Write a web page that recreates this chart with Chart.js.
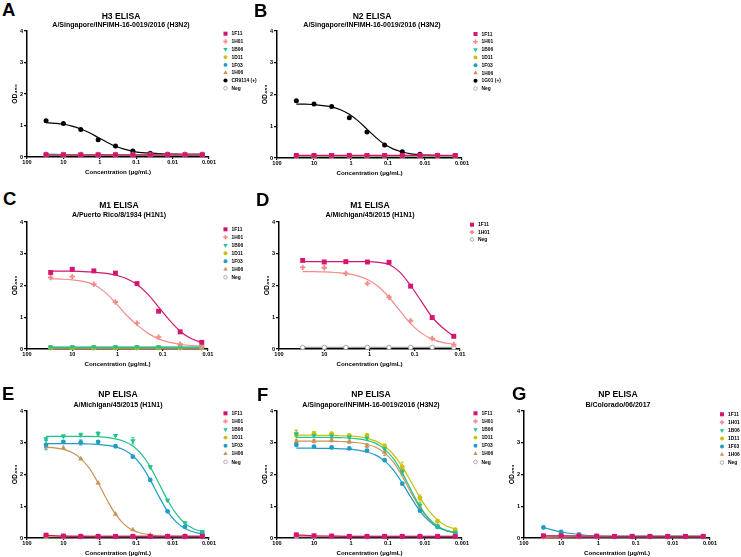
<!DOCTYPE html>
<html>
<head>
<meta charset="utf-8">
<title>ELISA binding curves</title>
<script src="https://cdn.jsdelivr.net/npm/chart.js@4.4.1/dist/chart.umd.min.js"></script>
<style>
  html,body{margin:0;padding:0;background:#fff;}
  body{width:741px;height:557px;position:relative;overflow:hidden;font-family:"Liberation Sans",Arial,Helvetica,sans-serif;}
  canvas{position:absolute;display:block;}
  .txt{position:absolute;font-weight:bold;color:#000;white-space:nowrap;line-height:1;}
  .ctr{text-align:center;width:240px;}
</style>
</head>
<body>
<script>
const FONT = '"Liberation Sans", Arial, Helvetica, sans-serif';

// ---------- concentrations (µg/mL) and ticks ----------
const conc10 = [30, 10, 3.333, 1.111, 0.3704, 0.1235, 0.04115, 0.01372, 0.004572, 0.001524];
const conc8  = [30, 10, 3.333, 1.111, 0.3704, 0.1235, 0.04115, 0.01372];
const fitConc19 = [30, 17.32, 10, 5.774, 3.333, 1.925, 1.111, 0.6415, 0.3704, 0.2138, 0.1235, 0.07128, 0.04115, 0.02376, 0.01372, 0.007921, 0.004572, 0.00264, 0.001524];
const fitConc15 = [30, 17.32, 10, 5.774, 3.333, 1.925, 1.111, 0.6415, 0.3704, 0.2138, 0.1235, 0.07128, 0.04115, 0.02376, 0.01372];
const xTicks5 = [100, 10, 1, 0.1, 0.01, 0.001];
const xTicks4 = [100, 10, 1, 0.1, 0.01];
const yTicks = [0, 1, 2, 3, 4];

// ---------- A: H3 ELISA ----------
const A_1F11 = [0.07, 0.07, 0.07, 0.07, 0.07, 0.07, 0.07, 0.07, 0.07, 0.07];
const A_1H01 = [0.08, 0.08, 0.08, 0.08, 0.08, 0.08, 0.08, 0.09, 0.09, 0.09];
const A_1B06 = [0.06, 0.06, 0.06, 0.06, 0.06, 0.06, 0.06, 0.06, 0.06, 0.06];
const A_1D11 = [0.06, 0.06, 0.06, 0.06, 0.06, 0.06, 0.06, 0.06, 0.06, 0.06];
const A_1F03 = [0.09, 0.08, 0.07, 0.07, 0.07, 0.07, 0.07, 0.07, 0.07, 0.07];
const A_1H06 = [0.05, 0.05, 0.05, 0.05, 0.05, 0.05, 0.05, 0.05, 0.05, 0.05];
const A_CR9114 = [1.15, 1.06, 0.87, 0.55, 0.35, 0.19, 0.12, 0.09, 0.08, 0.08];
const A_CR9114_fit = [1.09, 1.07, 1.04, 0.98, 0.89, 0.77, 0.62, 0.47, 0.34, 0.25, 0.18, 0.14, 0.12, 0.11, 0.10, 0.10, 0.09, 0.09, 0.09];
const A_Neg = [0.05, 0.05, 0.05, 0.05, 0.05, 0.05, 0.05, 0.05, 0.05, 0.05];

// ---------- B: N2 ELISA ----------
const B_1F11 = [0.08, 0.08, 0.08, 0.08, 0.08, 0.08, 0.08, 0.08, 0.08, 0.08];
const B_1H01 = [0.07, 0.07, 0.07, 0.07, 0.07, 0.07, 0.07, 0.07, 0.07, 0.07];
const B_1B06 = [0.06, 0.06, 0.06, 0.06, 0.06, 0.06, 0.06, 0.06, 0.06, 0.06];
const B_1D11 = [0.06, 0.06, 0.06, 0.06, 0.06, 0.06, 0.06, 0.06, 0.06, 0.06];
const B_1F03 = [0.07, 0.07, 0.07, 0.07, 0.07, 0.07, 0.07, 0.07, 0.07, 0.07];
const B_1H06 = [0.05, 0.05, 0.05, 0.05, 0.05, 0.05, 0.05, 0.05, 0.05, 0.05];
const B_1G01 = [1.80, 1.70, 1.62, 1.27, 0.82, 0.41, 0.20, 0.12, 0.09, 0.08];
const B_1G01_fit = [1.70, 1.70, 1.68, 1.65, 1.61, 1.52, 1.38, 1.17, 0.91, 0.65, 0.43, 0.28, 0.19, 0.13, 0.10, 0.09, 0.08, 0.07, 0.07];
const B_Neg = [0.05, 0.05, 0.05, 0.05, 0.05, 0.05, 0.05, 0.05, 0.05, 0.05];

// ---------- C: M1 ELISA, A/Puerto Rico/8/1934 ----------
const C_1F11 = [2.41, 2.51, 2.46, 2.39, 2.06, 1.19, 0.54, 0.21];
const C_1F11_fit = [2.45, 2.45, 2.45, 2.44, 2.42, 2.39, 2.33, 2.22, 2.03, 1.73, 1.32, 0.91, 0.56, 0.33, 0.20];
const C_1H01 = [2.25, 2.28, 2.04, 1.48, 0.81, 0.37, 0.15, 0.08];
const C_1H01_fit = [2.21, 2.20, 2.18, 2.13, 2.03, 1.80, 1.46, 1.08, 0.76, 0.50, 0.32, 0.21, 0.15, 0.11, 0.09];
const C_1B06 = [0.06, 0.06, 0.06, 0.06, 0.06, 0.06, 0.06, 0.06];
const C_1D11 = [0.04, 0.04, 0.04, 0.04, 0.04, 0.04, 0.04, 0.04];
const C_1F03 = [0.05, 0.05, 0.05, 0.05, 0.05, 0.05, 0.05, 0.05];
const C_1H06 = [0.03, 0.03, 0.03, 0.03, 0.03, 0.03, 0.03, 0.03];
const C_Neg = [0.04, 0.04, 0.04, 0.04, 0.04, 0.04, 0.04, 0.04];

// ---------- D: M1 ELISA, A/Michigan/45/2015 ----------
const D_1F11 = [2.79, 2.74, 2.75, 2.74, 2.73, 1.98, 0.99, 0.40];
const D_1F11_fit = [2.75, 2.75, 2.75, 2.75, 2.75, 2.75, 2.75, 2.73, 2.66, 2.42, 2.00, 1.50, 1.00, 0.66, 0.40];
const D_1H01 = [2.57, 2.56, 2.38, 2.06, 1.63, 0.89, 0.33, 0.14];
const D_1H01_fit = [2.44, 2.44, 2.43, 2.41, 2.38, 2.31, 2.19, 1.97, 1.63, 1.21, 0.80, 0.50, 0.31, 0.20, 0.15];
const D_Neg = [0.05, 0.05, 0.05, 0.05, 0.05, 0.05, 0.05, 0.05];

// ---------- E: NP ELISA, A/Michigan/45/2015 ----------
const E_1F11 = [0.09, 0.06, 0.05, 0.05, 0.05, 0.05, 0.05, 0.05, 0.05, 0.05];
const E_1H01 = [0.07, 0.06, 0.06, 0.05, 0.05, 0.05, 0.05, 0.05, 0.05, 0.05];
const E_1B06 = [3.12, 3.21, 3.25, 3.29, 3.23, 3.06, 2.24, 1.19, 0.48, 0.20];
const E_1B06_err = [0.05, 0.03, 0.05, 0.05, 0.03, 0.10, 0.04, 0.03, 0.02, 0.02];
const E_1B06_fit = [3.20, 3.20, 3.20, 3.20, 3.20, 3.20, 3.19, 3.17, 3.12, 3.04, 2.90, 2.64, 2.24, 1.72, 1.19, 0.76, 0.46, 0.29, 0.20];
const E_1D11 = [0.05, 0.05, 0.05, 0.05, 0.05, 0.05, 0.05, 0.05, 0.05, 0.05];
const E_1F03 = [2.93, 3.03, 3.01, 3.03, 2.89, 2.56, 1.83, 0.84, 0.35, 0.16];
const E_1F03_err = [0.15, 0.03, 0.08, 0.03, 0.03, 0.03, 0.03, 0.03, 0.02, 0.02];
const E_1F03_fit = [2.97, 2.97, 2.97, 2.97, 2.97, 2.96, 2.95, 2.92, 2.87, 2.77, 2.59, 2.28, 1.83, 1.31, 0.84, 0.50, 0.30, 0.19, 0.13];
const E_1H06 = [2.87, 2.84, 2.49, 1.73, 0.75, 0.26, 0.09, 0.06, 0.05, 0.05];
const E_1H06_fit = [2.86, 2.84, 2.79, 2.69, 2.50, 2.19, 1.73, 1.21, 0.75, 0.43, 0.24, 0.15, 0.10, 0.07, 0.06, 0.055, 0.05, 0.05, 0.05];
const E_Neg = [0.04, 0.04, 0.04, 0.04, 0.04, 0.04, 0.04, 0.04, 0.04, 0.04];

// ---------- F: NP ELISA, A/Singapore/INFIMH-16-0019/2016 ----------
const F_1F11 = [0.10, 0.07, 0.06, 0.05, 0.05, 0.05, 0.05, 0.05, 0.05, 0.05];
const F_1H01 = [0.07, 0.06, 0.05, 0.05, 0.05, 0.05, 0.05, 0.05, 0.05, 0.05];
const F_1B06 = [3.28, 3.23, 3.22, 3.18, 3.15, 2.81, 2.08, 1.03, 0.37, 0.18];
const F_1B06_err = [0.10, 0.06, 0.05, 0.05, 0.08, 0.08, 0.10, 0.08, 0.03, 0.02];
const F_1B06_fit = [3.17, 3.17, 3.17, 3.17, 3.17, 3.16, 3.15, 3.12, 3.07, 2.98, 2.80, 2.50, 2.05, 1.51, 1.00, 0.62, 0.38, 0.24, 0.17];
const F_1D11 = [3.25, 3.30, 3.28, 3.23, 3.23, 2.89, 2.24, 1.26, 0.53, 0.26];
const F_1D11_err = [0.15, 0.05, 0.06, 0.04, 0.05, 0.07, 0.15, 0.10, 0.05, 0.03];
const F_1D11_fit = [3.24, 3.24, 3.24, 3.23, 3.23, 3.22, 3.21, 3.19, 3.14, 3.05, 2.89, 2.63, 2.25, 1.77, 1.28, 0.86, 0.57, 0.38, 0.28];
const F_1F03 = [2.93, 2.88, 2.85, 2.82, 2.75, 2.45, 1.71, 0.86, 0.35, 0.16];
const F_1F03_fit = [2.83, 2.83, 2.83, 2.82, 2.82, 2.81, 2.80, 2.77, 2.71, 2.61, 2.43, 2.14, 1.73, 1.27, 0.85, 0.54, 0.34, 0.23, 0.17];
const F_1H06 = [3.03, 3.05, 3.08, 3.03, 2.91, 2.70, 2.15, 0.96, 0.38, 0.20];
const F_1H06_err = [0.05, 0.05, 0.05, 0.05, 0.06, 0.10, 0.10, 0.05, 0.03, 0.02];
const F_1H06_fit = [3.05, 3.05, 3.05, 3.05, 3.05, 3.04, 3.03, 3.00, 2.95, 2.86, 2.68, 2.39, 1.95, 1.43, 0.95, 0.59, 0.36, 0.23, 0.17];
const F_Neg = [0.04, 0.04, 0.04, 0.04, 0.04, 0.04, 0.04, 0.04, 0.04, 0.04];

// ---------- G: NP ELISA, B/Colorado/06/2017 ----------
const G_1F11 = [0.07, 0.07, 0.06, 0.06, 0.05, 0.05, 0.05, 0.05, 0.05, 0.05];
const G_1H01 = [0.06, 0.06, 0.05, 0.05, 0.05, 0.05, 0.05, 0.05, 0.05, 0.05];
const G_1B06 = [0.05, 0.05, 0.05, 0.05, 0.05, 0.05, 0.05, 0.05, 0.05, 0.05];
const G_1D11 = [0.05, 0.05, 0.05, 0.05, 0.05, 0.05, 0.05, 0.05, 0.05, 0.05];
const G_1F03 = [0.33, 0.19, 0.11, 0.06, 0.05, 0.05, 0.05, 0.05, 0.05, 0.05];
const G_1H06 = [0.02, 0.03, 0.04, 0.04, 0.04, 0.04, 0.04, 0.04, 0.04, 0.04];
const G_Neg = [0.04, 0.04, 0.04, 0.04, 0.04, 0.04, 0.04, 0.04, 0.04, 0.04];

// ---------- styles ----------
const STYLE = {
  '1F11': {color: '#D3166F', shape: 'rect', r: 3.5},
  '1H01': {color: '#F48B8B', shape: 'cross', r: 2.7},
  '1B06': {color: '#20C38A', shape: 'triangle', rot: 180, r: 3.1},
  '1D11': {color: '#C9C10D', shape: 'circle', r: 2.4},
  '1F03': {color: '#1F9DC4', shape: 'circle', r: 2.4},
  '1H06': {color: '#C8935B', shape: 'triangle', r: 3.1},
  'pos':  {color: '#000000', shape: 'circle', r: 2.5},
  'Neg':  {color: '#9A9A9A', shape: 'circle', r: 2.2, open: true}
};

function S(label, x, y, st, fit, err) { return {label, x, y, st, fit, err}; }

const panels = [
  {key: 'A', plot: [27, 31, 209, 157], ticks: xTicks5, xmin: 0.001,
   legend: [225.5, 33.7, 7.8], letter: [2, 3.5], titleX: 121, caps: [12.8, 21.8],
   title: 'H3 ELISA', sub: 'A/Singapore/INFIMH-16-0019/2016 (H3N2)',
   series: [S('1F11', conc10, A_1F11, '1F11'), S('1H01', conc10, A_1H01, '1H01'), S('1B06', conc10, A_1B06, '1B06'),
            S('1D11', conc10, A_1D11, '1D11'), S('1F03', conc10, A_1F03, '1F03'), S('1H06', conc10, A_1H06, '1H06'),
            S('CR9114 (+)', conc10, A_CR9114, 'pos', [fitConc19, A_CR9114_fit]), S('Neg', conc10, A_Neg, 'Neg')]},
  {key: 'B', plot: [277, 31, 462, 158], ticks: xTicks5, xmin: 0.001,
   legend: [475.5, 34, 7.8], letter: [254, 4], titleX: 372, caps: [12.8, 21.8],
   title: 'N2 ELISA', sub: 'A/Singapore/INFIMH-16-0019/2016 (H3N2)',
   series: [S('1F11', conc10, B_1F11, '1F11'), S('1H01', conc10, B_1H01, '1H01'), S('1B06', conc10, B_1B06, '1B06'),
            S('1D11', conc10, B_1D11, '1D11'), S('1F03', conc10, B_1F03, '1F03'), S('1H06', conc10, B_1H06, '1H06'),
            S('1G01 (+)', conc10, B_1G01, 'pos', [fitConc19, B_1G01_fit]), S('Neg', conc10, B_Neg, 'Neg')]},
  {key: 'C', plot: [27, 222, 208, 349], ticks: xTicks4, xmin: 0.01,
   legend: [225.5, 229.3, 8.0], letter: [3, 192], titleX: 119, caps: [202.2, 211.8],
   title: 'M1 ELISA', sub: 'A/Puerto Rico/8/1934 (H1N1)',
   series: [S('1F11', conc8, C_1F11, '1F11', [fitConc15, C_1F11_fit]), S('1H01', conc8, C_1H01, '1H01', [fitConc15, C_1H01_fit]),
            S('1B06', conc8, C_1B06, '1B06'), S('1D11', conc8, C_1D11, '1D11'), S('1F03', conc8, C_1F03, '1F03'),
            S('1H06', conc8, C_1H06, '1H06'), S('Neg', conc8, C_Neg, 'Neg')]},
  {key: 'D', plot: [279, 222, 460, 349], ticks: xTicks4, xmin: 0.01,
   legend: [472, 224.7, 7.4], letter: [256, 193], titleX: 370, caps: [202.2, 211.8],
   title: 'M1 ELISA', sub: 'A/Michigan/45/2015 (H1N1)',
   series: [S('1F11', conc8, D_1F11, '1F11', [fitConc15, D_1F11_fit]), S('1H01', conc8, D_1H01, '1H01', [fitConc15, D_1H01_fit]),
            S('Neg', conc8, D_Neg, 'Neg')]},
  {key: 'E', plot: [27, 411, 209, 538], ticks: xTicks5, xmin: 0.001,
   legend: [225.5, 413.3, 8.1], letter: [2, 387], titleX: 118, caps: [391.5, 401.5],
   title: 'NP ELISA', sub: 'A/Michigan/45/2015 (H1N1)',
   series: [S('1F11', conc10, E_1F11, '1F11'), S('1H01', conc10, E_1H01, '1H01'),
            S('1B06', conc10, E_1B06, '1B06', [fitConc19, E_1B06_fit], E_1B06_err), S('1D11', conc10, E_1D11, '1D11'),
            S('1F03', conc10, E_1F03, '1F03', [fitConc19, E_1F03_fit], E_1F03_err), S('1H06', conc10, E_1H06, '1H06', [fitConc19, E_1H06_fit]),
            S('Neg', conc10, E_Neg, 'Neg')]},
  {key: 'F', plot: [277, 411, 462, 538], ticks: xTicks5, xmin: 0.001,
   legend: [475.5, 413.3, 8.1], letter: [257, 388], titleX: 371, caps: [391.5, 401.5],
   title: 'NP ELISA', sub: 'A/Singapore/INFIMH-16-0019/2016 (H3N2)',
   series: [S('1F11', conc10, F_1F11, '1F11'), S('1H01', conc10, F_1H01, '1H01'),
            S('1B06', conc10, F_1B06, '1B06', [fitConc19, F_1B06_fit], F_1B06_err), S('1D11', conc10, F_1D11, '1D11', [fitConc19, F_1D11_fit], F_1D11_err),
            S('1F03', conc10, F_1F03, '1F03', [fitConc19, F_1F03_fit]), S('1H06', conc10, F_1H06, '1H06', [fitConc19, F_1H06_fit], F_1H06_err),
            S('Neg', conc10, F_Neg, 'Neg')]},
  {key: 'G', plot: [524, 411, 710, 538], ticks: xTicks5, xmin: 0.001,
   legend: [722, 414.3, 8.05], letter: [512, 387], titleX: 618, caps: [391.5, 401.5],
   title: 'NP ELISA', sub: 'B/Colorado/06/2017',
   series: [S('1F11', conc10, G_1F11, '1F11'), S('1H01', conc10, G_1H01, '1H01'), S('1B06', conc10, G_1B06, '1B06'),
            S('1D11', conc10, G_1D11, '1D11'), S('1F03', conc10, G_1F03, '1F03'), S('1H06', conc10, G_1H06, '1H06'),
            S('Neg', conc10, G_Neg, 'Neg')]}
];

function addText(text, left, capTop, size, centered) {
  const d = document.createElement('div');
  d.className = 'txt' + (centered ? ' ctr' : '');
  d.textContent = text;
  d.style.fontSize = size + 'px';
  d.style.left = (centered ? left - 120 : left) + 'px';
  d.style.top = (capTop - 0.1305 * size) + 'px';
  document.body.appendChild(d);
}

function drawMarker(ctx, st, x, y, k) {
  ctx.save();
  ctx.fillStyle = st.open ? '#ffffff' : st.color;
  ctx.strokeStyle = st.color;
  const bw = st.shape === 'cross' ? 1.6 : (st.open ? 0.8 : 0);
  ctx.lineWidth = bw;
  const H = Chart.helpers;
  if (H && H.drawPoint) {
    H.drawPoint(ctx, {pointStyle: st.shape, radius: st.r * k, rotation: st.rot || 0, borderWidth: bw}, x, y);
  } else {
    ctx.beginPath(); ctx.arc(x, y, st.r * k, 0, Math.PI * 2); ctx.fill(); if (bw) ctx.stroke();
  }
  ctx.restore();
}

const YW = 17, XH = 19;

panels.forEach(p => {
  const [L, T, R, B] = p.plot;
  const cl = Math.floor(L - YW - 8);
  const ct = Math.floor(T - 8);
  const cr = Math.ceil(Math.max(R + 14, p.legend[0] + 40));
  const cb = Math.ceil(B + XH + 2);
  const W = cr - cl, H = cb - ct;
  const canvas = document.createElement('canvas');
  canvas.width = W; canvas.height = H;
  canvas.style.left = cl + 'px'; canvas.style.top = ct + 'px';
  canvas.style.width = W + 'px'; canvas.style.height = H + 'px';
  document.body.appendChild(canvas);

  const datasets = [];
  p.series.forEach(s => {
    const st = STYLE[s.st];
    datasets.push({
      label: s.label,
      data: s.x.map((x, i) => ({x: x, y: s.y[i]})),
      errors: s.err || null,
      showLine: !s.fit,
      borderColor: st.color,
      borderWidth: 1.2,
      backgroundColor: st.color,
      pointStyle: st.shape,
      pointRadius: st.r,
      pointRotation: st.rot || 0,
      pointBackgroundColor: st.open ? '#ffffff' : st.color,
      pointBorderColor: st.color,
      pointBorderWidth: st.shape === 'cross' ? 1.9 : (st.open ? 0.9 : 0),
      cubicInterpolationMode: 'monotone',
      clip: false
    });
  });
  p.series.filter(s => s.fit).forEach(s => {
    const st = STYLE[s.st];
    datasets.push({
      label: s.label + ' fit',
      data: s.fit[0].map((x, i) => ({x: x, y: s.fit[1][i]})),
      showLine: true,
      pointRadius: 0,
      borderColor: st.color,
      borderWidth: 1.2,
      cubicInterpolationMode: 'monotone',
      clip: false
    });
  });

  const errorBarPlugin = {
    id: 'errorBars' + p.key,
    beforeDatasetsDraw(chart) {
      const ctx = chart.ctx;
      const xs = chart.scales.x, ys = chart.scales.y;
      ctx.save();
      ctx.lineWidth = 0.9;
      chart.data.datasets.forEach(ds => {
        if (!ds.errors) return;
        ctx.strokeStyle = ds.borderColor;
        ds.data.forEach((pt, i) => {
          const e = ds.errors[i];
          const px = xs.getPixelForValue(pt.x);
          const y1 = ys.getPixelForValue(pt.y + e), y0 = ys.getPixelForValue(pt.y - e);
          ctx.beginPath();
          ctx.moveTo(px, y0); ctx.lineTo(px, y1);
          ctx.moveTo(px - 1.6, y1); ctx.lineTo(px + 1.6, y1);
          ctx.moveTo(px - 1.6, y0); ctx.lineTo(px + 1.6, y0);
          ctx.stroke();
        });
      });
      ctx.restore();
    }
  };

  const legendPlugin = {
    id: 'prismLegend' + p.key,
    afterDatasetsDraw(chart) {
      const ctx = chart.ctx;
      ctx.save();
      ctx.font = 'bold 4.9px ' + FONT;
      ctx.textBaseline = 'middle';
      ctx.textAlign = 'left';
      p.series.forEach((s, i) => {
        const y = p.legend[1] + i * p.legend[2] - ct;
        const x = p.legend[0] - cl;
        drawMarker(ctx, STYLE[s.st], x, y, 0.82);
        ctx.fillStyle = '#000';
        ctx.fillText(s.label, x + 6, y + 0.3);
      });
      ctx.restore();
    }
  };

  const tickFont = {family: FONT, size: 5.6, weight: 'bold'};
  new Chart(canvas, {
    type: 'scatter',
    data: {datasets},
    plugins: [errorBarPlugin, legendPlugin],
    options: {
      responsive: false,
      animation: false,
      devicePixelRatio: 1,
      events: [],
      layout: {padding: {left: L - YW - cl, top: T - ct, right: cr - R, bottom: cb - B - XH}},
      plugins: {legend: {display: false}, tooltip: {enabled: false}, title: {display: false}},
      scales: {
        x: {
          type: 'logarithmic', reverse: true, min: p.xmin, max: 100, offset: false,
          afterBuildTicks: sc => { sc.ticks = p.ticks.map(v => ({value: v, major: true})); },
          afterFit: sc => { sc.height = XH; },
          ticks: {callback: v => String(v), autoSkip: false, maxRotation: 0, minRotation: 0, font: tickFont, color: '#000', padding: 0},
          grid: {drawOnChartArea: false, drawTicks: true, tickLength: 2, color: '#000', lineWidth: 1.2},
          border: {display: true, color: '#000', width: 1.5},
          title: {display: true, text: 'Concentration (µg/mL)', color: '#000', font: {family: FONT, size: 6.2, weight: 'bold'}, padding: {top: 0, bottom: 0}}
        },
        y: {
          type: 'linear', min: 0, max: 4,
          afterBuildTicks: sc => { sc.ticks = yTicks.map(v => ({value: v})); },
          afterFit: sc => { sc.width = YW; },
          ticks: {font: tickFont, color: '#000', padding: 1},
          grid: {drawOnChartArea: false, drawTicks: true, tickLength: 3, color: '#000', lineWidth: 1.2},
          border: {display: true, color: '#000', width: 1.5},
          title: {display: true, text: 'OD₄₅₀', color: '#000', font: {family: FONT, size: 6.8, weight: 'bold'}, padding: {top: 1, bottom: 0}}
        }
      }
    }
  });

  addText(p.key, p.letter[0], p.letter[1], 18.5, false);
  addText(p.title, p.titleX, p.caps[0], 8.6, true);
  addText(p.sub, p.titleX, p.caps[1], 7, true);
});
</script>
</body>
</html>
